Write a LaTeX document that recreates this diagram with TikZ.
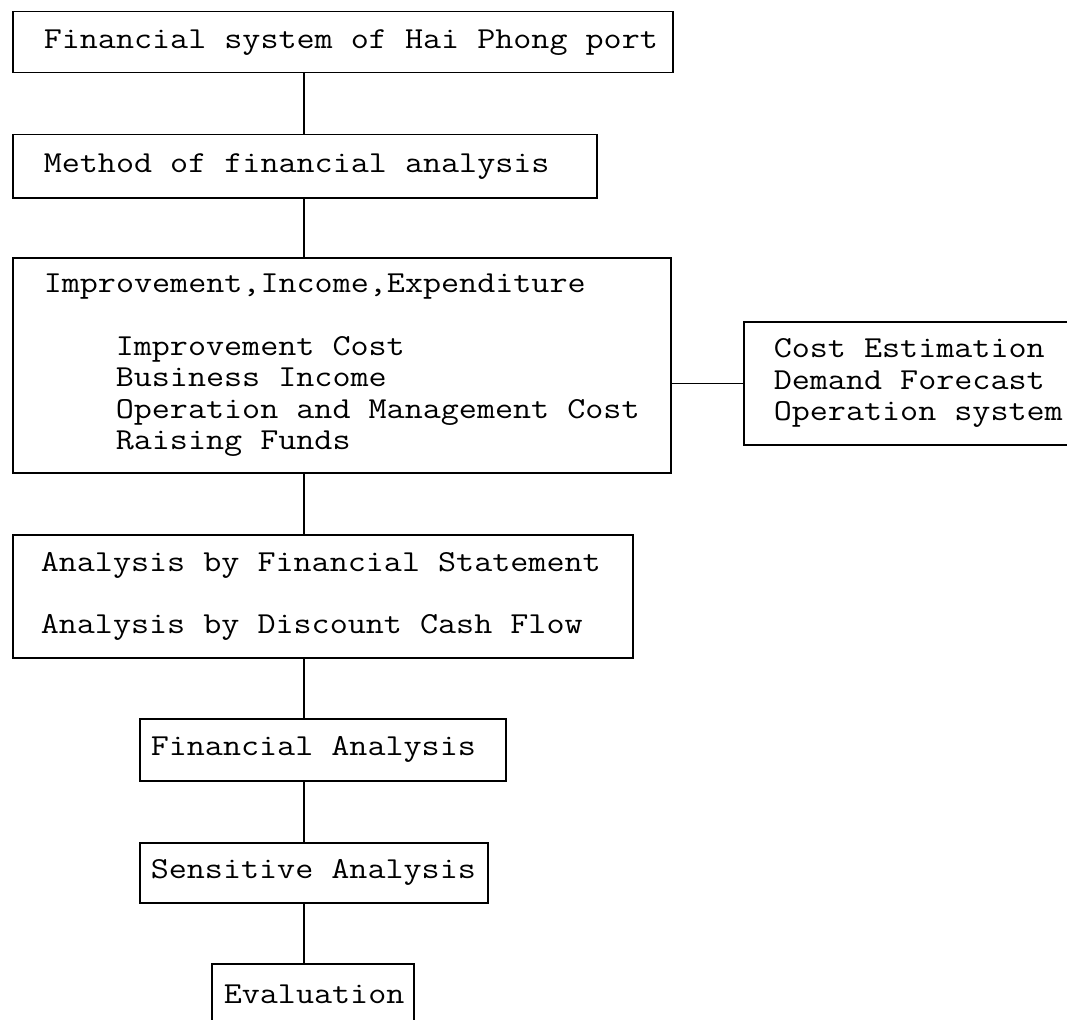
\documentclass[tikz,border=0pt]{standalone}
\usepackage{graphicx}
\tikzset{
  chartbox/.style={draw, line width=1.5pt, rectangle, anchor=north west,
    inner xsep=0pt, inner ysep=0pt, align=left,
    font=\fontsize{30.5}{31.3}\selectfont\ttfamily},
  link/.style={line width=1.5pt}
}
\newcommand{\pline}[2]{\hspace*{#1}\scalebox{1.15}[1]{\spaceskip=\fontcharwd\font`\M\relax#2}}
\begin{document}
\begin{tikzpicture}[x=1pt,y=-1pt]
\useasboundingbox (0,0) rectangle (1067,1019);
\clip (0,0) rectangle (1067,1019);
\node[chartbox, text width=660pt, minimum height=61pt] (fsys) at (12,11)
  {\pline{31pt}{Financial system of Hai Phong port}};
\node[chartbox, text width=584pt, minimum height=63pt] (method) at (12,134)
  {\pline{31pt}{Method of financial analysis}};
\node[chartbox, text width=658pt, minimum height=215pt] (improve) at (12,257)
  {\pline{31pt}{Improvement,Income,Expenditure}\\[31.3pt]
   \pline{103pt}{Improvement Cost}\\
   \pline{103pt}{Business Income}\\
   \pline{103pt}{Operation and Management Cost}\\
   \pline{103pt}{Raising Funds}};
\node[chartbox, text width=357pt, minimum height=123pt] (cost) at (743,321)
  {\pline{30pt}{Cost Estimation}\\
   \pline{30pt}{Demand Forecast}\\
   \pline{30pt}{Operation system}};
\node[chartbox, text width=620pt, minimum height=123pt] (stmt) at (12,534)
  {\pline{28pt}{Analysis by Financial Statement}\\[31pt]
   \pline{28pt}{Analysis by Discount Cash Flow}};
\node[chartbox, text width=366pt, minimum height=62pt] (finan) at (139,718)
  {\pline{11pt}{Financial Analysis}};
\node[chartbox, text width=348pt, minimum height=60pt] (sens) at (139,842)
  {\pline{11pt}{Sensitive Analysis}};
\node[chartbox, text width=202pt, minimum height=62pt] (eval) at (211,963)
  {\pline{12pt}{Evaluation}};
\coordinate (spine) at (304,0);
\draw[link] (fsys.south -| spine) -- (method.north -| spine);
\draw[link] (method.south -| spine) -- (improve.north -| spine);
\draw[link] (improve.south -| spine) -- (stmt.north -| spine);
\draw[link] (stmt.south -| spine) -- (finan.north -| spine);
\draw[link] (finan.south -| spine) -- (sens.north -| spine);
\draw[link] (sens.south -| spine) -- (eval.north -| spine);
\draw[link] (cost.west) -- (cost.west -| improve.east);
\end{tikzpicture}
\end{document}
